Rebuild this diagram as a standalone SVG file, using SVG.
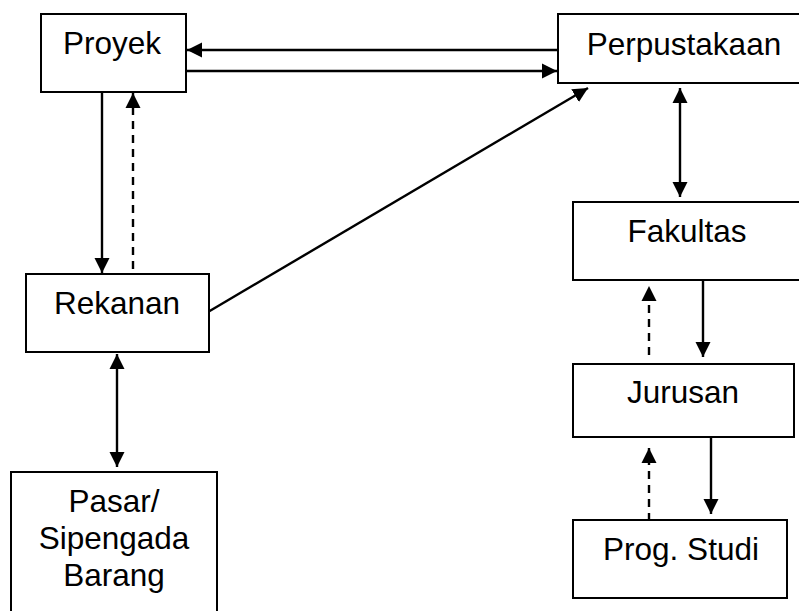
<svg xmlns="http://www.w3.org/2000/svg" width="799" height="611" viewBox="0 0 799 611">
<style>
.box{fill:#fff;stroke:#000;stroke-width:2}
.lbl{font-family:"Liberation Sans",Arial,sans-serif;font-size:31.5px;fill:#000;text-anchor:middle}
.ln{stroke:#000;stroke-width:2.4;fill:none}
.dash{stroke-dasharray:8 6}
</style>
<defs>
<marker id="ah" markerUnits="userSpaceOnUse" markerWidth="16" markerHeight="16" refX="15" refY="7.5" orient="auto-start-reverse" viewBox="0 0 16 15">
<path d="M0,0 L15,7.5 L0,15 z" fill="#000"/>
</marker>
</defs>
<rect width="799" height="611" fill="#fff"/>
<g id="connectors">
<line class="ln" x1="558" y1="50" x2="187" y2="50" marker-end="url(#ah)"/>
<line class="ln" x1="186" y1="71" x2="557" y2="71" marker-end="url(#ah)"/>
<line class="ln" x1="208" y1="312" x2="588" y2="88" marker-end="url(#ah)"/>
<line class="ln" x1="102" y1="92" x2="102" y2="273" marker-end="url(#ah)"/>
<line class="ln dash" x1="133" y1="269" x2="133" y2="93" marker-end="url(#ah)"/>
<line class="ln" x1="117" y1="354" x2="117" y2="467" marker-start="url(#ah)" marker-end="url(#ah)"/>
<line class="ln" x1="680" y1="88" x2="680" y2="197" marker-start="url(#ah)" marker-end="url(#ah)"/>
<line class="ln" x1="703" y1="280" x2="703" y2="357" marker-end="url(#ah)"/>
<line class="ln dash" x1="649" y1="355" x2="649" y2="286" marker-end="url(#ah)"/>
<line class="ln" x1="711" y1="437" x2="711" y2="514" marker-end="url(#ah)"/>
<line class="ln dash" x1="649" y1="521" x2="649" y2="448" marker-end="url(#ah)"/>
</g>
<g id="proyek"><rect class="box" x="41" y="14" width="145" height="78"/><text class="lbl" x="112" y="54">Proyek</text></g>
<g id="perpustakaan"><rect class="box" x="558" y="14" width="250" height="69"/><text class="lbl" x="684" y="55">Perpustakaan</text></g>
<g id="rekanan"><rect class="box" x="26" y="274" width="183" height="78"/><text class="lbl" x="117" y="314">Rekanan</text></g>
<g id="pasar"><rect class="box" x="11" y="472" width="206" height="150"/><text class="lbl" x="114" y="512">Pasar/</text><text class="lbl" x="114" y="549">Sipengada</text><text class="lbl" x="114" y="586">Barang</text></g>
<g id="fakultas"><rect class="box" x="573" y="202" width="235" height="78"/><text class="lbl" x="687" y="242">Fakultas</text></g>
<g id="jurusan"><rect class="box" x="573" y="364" width="221" height="73"/><text class="lbl" x="683" y="403">Jurusan</text></g>
<g id="progstudi"><rect class="box" x="573" y="520" width="214" height="78"/><text class="lbl" x="681" y="560">Prog. Studi</text></g>
</svg>
